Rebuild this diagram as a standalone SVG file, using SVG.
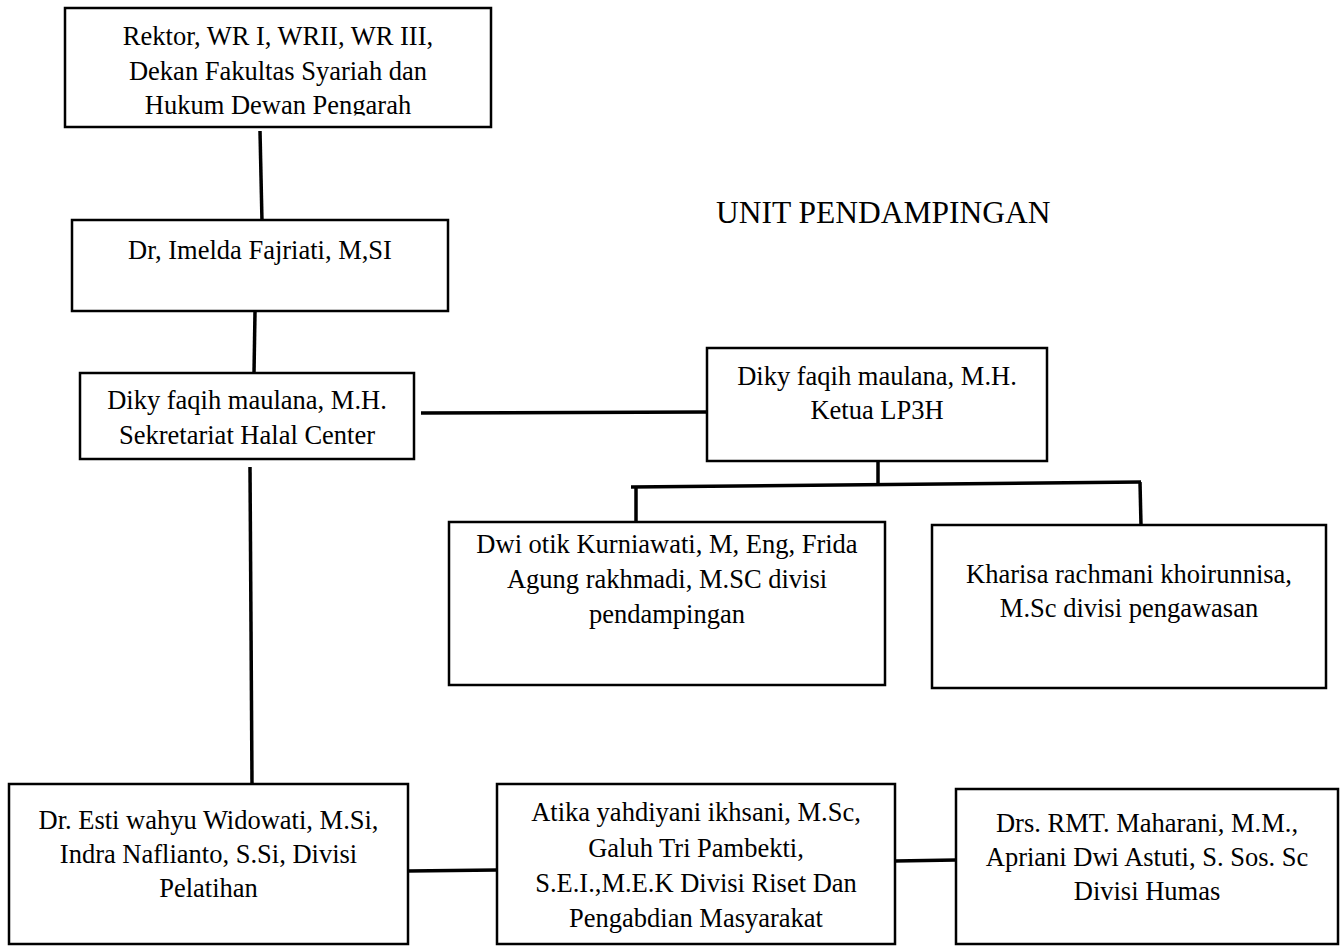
<svg xmlns="http://www.w3.org/2000/svg" width="1343" height="948" viewBox="0 0 1343 948">
<style>
.box{fill:#fff;stroke:#000;stroke-width:2.5}
.t{font-family:'Liberation Serif','Times New Roman',Times,'DejaVu Serif',serif;font-size:26.5px;fill:#000;text-anchor:middle}
.title{font-family:'Liberation Serif','Times New Roman',Times,'DejaVu Serif',serif;font-size:31.5px;fill:#000}
.c{stroke:#000;stroke-width:3.5;fill:none}
</style>
<defs>
<clipPath id="clip1"><rect x="65" y="8" width="426" height="107.5"/></clipPath>
</defs>
<rect width="1343" height="948" fill="#fff"/>
<g id="connectors">
<line class="c" x1="260" y1="131" x2="262" y2="222"/>
<line class="c" x1="255" y1="312" x2="254" y2="373"/>
<line class="c" x1="250" y1="467" x2="252" y2="784"/>
<line class="c" x1="421" y1="413" x2="707" y2="412"/>
<line class="c" x1="878" y1="461" x2="878" y2="484"/>
<line class="c" x1="631" y1="487" x2="1141" y2="482"/>
<line class="c" x1="636" y1="487" x2="636" y2="522"/>
<line class="c" x1="1140" y1="482" x2="1141" y2="525"/>
<line class="c" x1="408" y1="871" x2="497" y2="870"/>
<line class="c" x1="895" y1="861" x2="956" y2="860"/>
</g>
<g id="n-rektor">
<rect class="box" x="65" y="8" width="426" height="119"/>
<g clip-path="url(#clip1)">
<text class="t" x="278" y="45">Rektor, WR I, WRII, WR III,</text>
<text class="t" x="278" y="80">Dekan Fakultas Syariah dan</text>
<text class="t" x="278" y="114">Hukum Dewan Pengarah</text>
</g>
</g>
<g id="n-imelda">
<rect class="box" x="72" y="220" width="376" height="91"/>
<text class="t" x="260" y="259">Dr, Imelda Fajriati, M,SI</text>
</g>
<g id="n-sekretariat">
<rect class="box" x="80" y="373" width="334" height="86"/>
<text class="t" x="247" y="409">Diky faqih maulana, M.H.</text>
<text class="t" x="247" y="444">Sekretariat Halal Center</text>
</g>
<g id="n-title">
<text class="title" x="716" y="223">UNIT PENDAMPINGAN</text>
</g>
<g id="n-lp3h">
<rect class="box" x="707" y="348" width="340" height="113"/>
<text class="t" x="877" y="385">Diky faqih maulana, M.H.</text>
<text class="t" x="877" y="419">Ketua LP3H</text>
</g>
<g id="n-pendampingan">
<rect class="box" x="449" y="522" width="436" height="163"/>
<text class="t" x="667" y="553">Dwi otik Kurniawati, M, Eng, Frida</text>
<text class="t" x="667" y="588">Agung rakhmadi, M.SC divisi</text>
<text class="t" x="667" y="623">pendampingan</text>
</g>
<g id="n-pengawasan">
<rect class="box" x="932" y="525" width="394" height="163"/>
<text class="t" x="1129" y="583">Kharisa rachmani khoirunnisa,</text>
<text class="t" x="1129" y="617">M.Sc divisi pengawasan</text>
</g>
<g id="n-pelatihan">
<rect class="box" x="9" y="784" width="399" height="160"/>
<text class="t" x="208.5" y="829">Dr. Esti wahyu Widowati, M.Si,</text>
<text class="t" x="208.5" y="863">Indra Naflianto, S.Si, Divisi</text>
<text class="t" x="208.5" y="897">Pelatihan</text>
</g>
<g id="n-riset">
<rect class="box" x="497" y="784" width="398" height="160"/>
<text class="t" x="696" y="821">Atika yahdiyani ikhsani, M.Sc,</text>
<text class="t" x="696" y="857">Galuh Tri Pambekti,</text>
<text class="t" x="696" y="892">S.E.I.,M.E.K Divisi Riset Dan</text>
<text class="t" x="696" y="927">Pengabdian Masyarakat</text>
</g>
<g id="n-humas">
<rect class="box" x="956" y="789" width="382" height="155"/>
<text class="t" x="1147" y="832">Drs. RMT. Maharani, M.M.,</text>
<text class="t" x="1147" y="866">Apriani Dwi Astuti, S. Sos. Sc</text>
<text class="t" x="1147" y="900">Divisi Humas</text>
</g>
</svg>
